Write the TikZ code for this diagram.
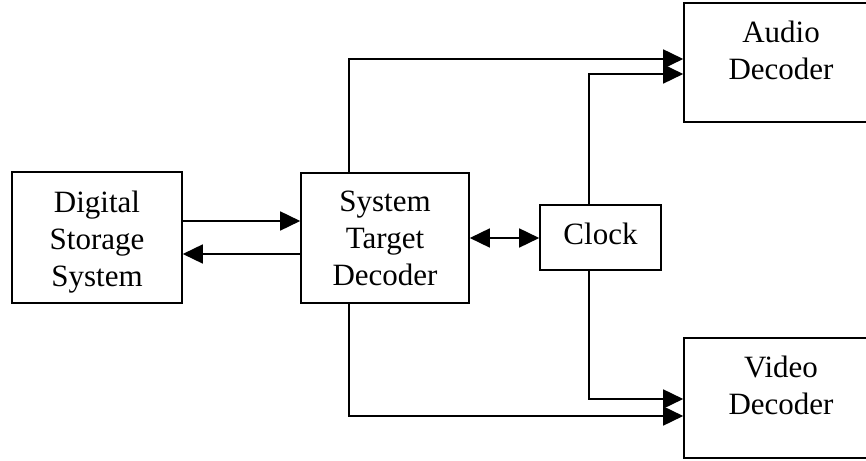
\documentclass[tikz,border=0pt]{standalone}
\usepackage{fontspec}
\setmainfont{Liberation Serif}
\usetikzlibrary{arrows.meta}
\begin{document}
\begin{tikzpicture}[x=1pt,y=1pt,
  box/.style={draw, line width=1.6pt, inner sep=0pt},
  lbl/.style={anchor=north, inner sep=0pt, align=center, font=\fontsize{31}{37}\selectfont},
  conn/.style={line width=1.6pt},
  arr/.style={conn, -{Triangle[length=20pt,width=19pt]}},
  darr/.style={conn, {Triangle[length=20pt,width=19pt]}-{Triangle[length=20pt,width=19pt]}}]
\useasboundingbox (0,0) rectangle (866,460);
% boxes
\node[box, minimum width=170pt, minimum height=131pt] (dss) at (97,222.5) {};
\node[box, minimum width=168pt, minimum height=130pt] (std) at (385,222) {};
\node[box, minimum width=121pt, minimum height=65pt] (clock) at (600.5,222.5) {};
\node[box, minimum width=194pt, minimum height=119pt] (audio) at (781,397.5) {};
\node[box, minimum width=194pt, minimum height=120pt] (video) at (781,62) {};
% labels
\node[lbl] (dsst) at ([yshift=-19.5pt]dss.north) {Digital\\Storage\\System};
\node[lbl] (stdt) at ([yshift=-18.5pt]std.north) {System\\Target\\Decoder};
\node[lbl] (clockt) at ([yshift=-19pt]clock.north) {Clock};
\node[lbl] (audiot) at ([yshift=-19pt]audio.north) {Audio\\Decoder};
\node[lbl] (videot) at ([yshift=-19pt]video.north) {Video\\Decoder};
% routing coordinates
\coordinate (ta) at (349,401);
\coordinate (ca) at (589,386);
\coordinate (cv) at (589,61);
\coordinate (tv) at (349,44);
% connectors
\draw[arr] ([yshift=16.5pt]dss.east) -- ([yshift=16.5pt]dss.east -| std.west);
\draw[arr] ([yshift=-16pt]std.west) -- ([yshift=-16pt]std.west -| dss.east);
\draw[darr] (std.east) -- (std.east -| clock.west);
\draw[arr] (std.north -| ta) |- (audio.west |- ta);
\draw[arr] (clock.north -| ca) |- (audio.west |- ca);
\draw[arr] (clock.south -| cv) |- (video.west |- cv);
\draw[arr] (std.south -| tv) |- (video.west |- tv);
\end{tikzpicture}
\end{document}
